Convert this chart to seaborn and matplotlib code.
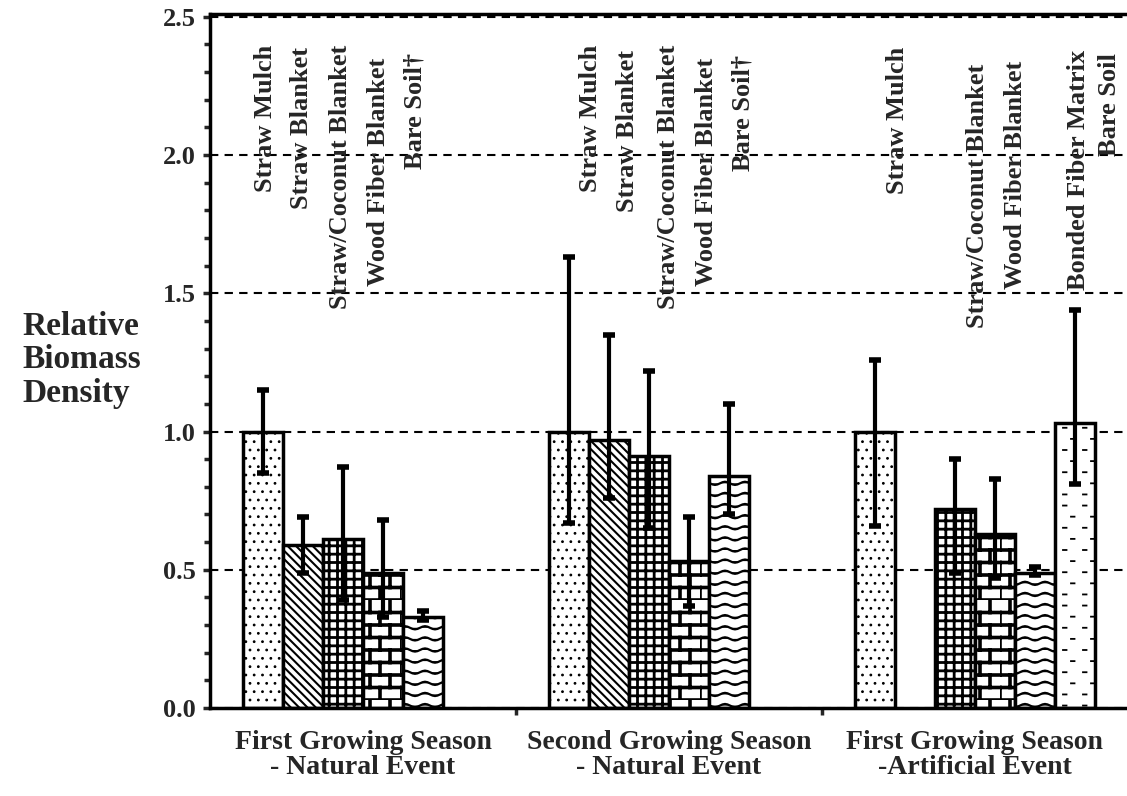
import warnings
import numpy as np
import pandas as pd
import matplotlib
matplotlib.use("Agg")
import matplotlib.pyplot as plt
from matplotlib import hatch as mhatch
from matplotlib.path import Path
from matplotlib.ticker import MultipleLocator, FixedLocator, FormatStrFormatter
import seaborn as sns

warnings.filterwarnings("ignore")

# categories
seasons = ["First Growing Season\n- Natural Event",
           "Second Growing Season\n- Natural Event",
           "First Growing Season\n-Artificial Event"]
treatments = ["Straw Mulch", "Straw Blanket", "Straw/Coconut Blanket",
              "Wood Fiber Blanket", "Bare Soil", "Bonded Fiber Matrix"]

# values per season (None = treatment not tested)
first_natural = [1.00, 0.59, 0.61, 0.49, 0.33, None]
second_natural = [1.00, 0.97, 0.91, 0.53, 0.84, None]
first_artificial = [1.00, None, 0.72, 0.63, 0.49, 1.03]

# error bar ends (low, high)
first_natural_err = [(0.85, 1.15), (0.49, 0.69), (0.39, 0.87), (0.33, 0.68), (0.32, 0.35), None]
second_natural_err = [(0.67, 1.63), (0.76, 1.35), (0.65, 1.22), (0.37, 0.69), (0.70, 1.10), None]
first_artificial_err = [(0.66, 1.26), None, (0.49, 0.90), (0.47, 0.83), (0.48, 0.51), (0.81, 1.44)]

# labels written above the bars of each season
label_names = [
    ["Straw Mulch", "Straw Blanket", "Straw/Coconut Blanket", "Wood Fiber Blanket", "Bare Soil\u2020"],
    ["Straw Mulch", "Straw Blanket", "Straw/Coconut Blanket", "Wood Fiber Blanket", "Bare Soil\u2020"],
    ["Straw Mulch", "Straw/Coconut Blanket", "Wood Fiber Blanket", "Bonded Fiber Matrix", "Bare Soil"],
]

# layout of those labels (offset from group centre, top position)
label_dx = [[-0.32, -0.20, -0.075, 0.05, 0.17],
            [-0.258, -0.134, -0.003, 0.124, 0.242],
            [-0.252, 0.007, 0.131, 0.337, 0.441]]
label_top = [[2.40, 2.39, 2.40, 2.35, 2.37],
             [2.40, 2.38, 2.40, 2.35, 2.36],
             [2.39, 2.33, 2.34, 2.38, 2.37]]


# extra hatch patterns: w = wavy rows, b = brick, d = sparse dashes
class WavyHatch(mhatch.HatchPatternBase):
    def __init__(self, hatch, density):
        self.rows = hatch.count("w") * 9
        self.npts = 41
        self.num_vertices = self.rows * self.npts

    def set_vertices_and_codes(self, vertices, codes):
        xs = np.linspace(0, 1, self.npts)
        k = 0
        for r in range(self.rows):
            vertices[k:k + self.npts, 0] = xs
            vertices[k:k + self.npts, 1] = (r + 0.5) / self.rows + 0.016 * np.sin(2 * np.pi * 5 * xs)
            codes[k] = Path.MOVETO
            codes[k + 1:k + self.npts] = Path.LINETO
            k += self.npts


class BrickHatch(mhatch.HatchPatternBase):
    def __init__(self, hatch, density):
        self.rows = hatch.count("b") * 8
        self.per_row = 5
        self.num_vertices = self.rows * (2 + 2 * self.per_row)

    def set_vertices_and_codes(self, vertices, codes):
        k = 0
        for r in range(self.rows):
            y0 = r / self.rows
            y1 = (r + 1) / self.rows
            vertices[k] = (0, y0)
            vertices[k + 1] = (1, y0)
            codes[k] = Path.MOVETO
            codes[k + 1] = Path.LINETO
            k += 2
            for j in range(self.per_row):
                x = (j + 0.5 * (r % 2)) / self.per_row
                vertices[k] = (x, y0)
                vertices[k + 1] = (x, y1)
                codes[k] = Path.MOVETO
                codes[k + 1] = Path.LINETO
                k += 2


class DashHatch(mhatch.HatchPatternBase):
    def __init__(self, hatch, density):
        self.rows = hatch.count("d") * 9
        self.per_row = 5
        self.num_vertices = self.rows * self.per_row * 2

    def set_vertices_and_codes(self, vertices, codes):
        k = 0
        for r in range(self.rows):
            y = (r + 0.5) / self.rows
            for j in range(self.per_row):
                x = (j + 0.15 + 0.4 * (r % 2)) / self.per_row
                vertices[k] = (x, y)
                vertices[k + 1] = (x + 0.035, y)
                codes[k] = Path.MOVETO
                codes[k + 1] = Path.LINETO
                k += 2


mhatch._hatch_types.extend([WavyHatch, BrickHatch, DashHatch])

hatches = {"Straw Mulch": "..", "Straw Blanket": "\\\\\\\\", "Straw/Coconut Blanket": "++",
           "Wood Fiber Blanket": "b", "Bare Soil": "w", "Bonded Fiber Matrix": "d"}
hatch_lw = {"Straw Mulch": 0.8, "Straw Blanket": 1.5, "Straw/Coconut Blanket": 2.0,
            "Wood Fiber Blanket": 2.6, "Bare Soil": 1.6, "Bonded Fiber Matrix": 1.3}

rows = []
err_lookup = {}
for gi, (s, vals, errs) in enumerate(zip(seasons, [first_natural, second_natural, first_artificial],
                                         [first_natural_err, second_natural_err, first_artificial_err])):
    for t, v, e in zip(treatments, vals, errs):
        if v is not None:
            rows.append({"season": s, "treatment": t, "value": v})
            err_lookup[(gi, t)] = e
df = pd.DataFrame(rows)

sns.set_style("ticks")
plt.rcParams["font.family"] = ["Liberation Serif", "DejaVu Serif"]
plt.rcParams["font.weight"] = "bold"
plt.rcParams["hatch.linewidth"] = 1.6
plt.rcParams["hatch.color"] = "black"

fig = plt.figure(figsize=(11.27, 7.96), dpi=100)
ax = fig.add_axes([210 / 1127, 88 / 796, 917 / 1127, 694 / 796])

sns.barplot(data=df, x="season", y="value", hue="treatment", order=seasons,
            hue_order=treatments, palette={t: "white" for t in treatments},
            edgecolor="black", linewidth=2.5, width=0.784, errorbar=None,
            legend=False, ax=ax, zorder=2)

for t, cont in zip(treatments, ax.containers):
    for bar in cont:
        bar.set_hatch(hatches[t])
        if hasattr(bar, "set_hatch_linewidth"):
            bar.set_hatch_linewidth(hatch_lw[t])
        xc = bar.get_x() + bar.get_width() / 2
        g = int(round(xc))
        lo, hi = err_lookup[(g, t)]
        h = bar.get_height()
        ax.errorbar(xc, h, yerr=[[h - lo], [hi - h]], fmt="none", ecolor="black",
                    elinewidth=3, capsize=4.5, capthick=4, zorder=4)

# treatment names
for g, (names, dxs, tops) in enumerate(zip(label_names, label_dx, label_top)):
    for name, dx, top in zip(names, dxs, tops):
        ax.text(g + dx, top, name, rotation=90, ha="center", va="top",
                fontsize=19, fontweight="bold", zorder=5)

ax.set_xlim(-0.5, 2.497)
ax.set_ylim(0, 2.51)
ax.yaxis.set_major_locator(FixedLocator([0, 0.5, 1.0, 1.5, 2.0, 2.5]))
ax.yaxis.set_major_formatter(FormatStrFormatter("%.1f"))
ax.yaxis.set_minor_locator(MultipleLocator(0.1))
ax.xaxis.set_minor_locator(FixedLocator([0.5, 1.5]))
ax.set_axisbelow(True)
ax.yaxis.grid(True, which="major", color="black", linestyle=(0, (4, 3)), linewidth=1.5)

ax.tick_params(axis="y", which="major", direction="out", length=5, width=2.5,
               labelsize=19, pad=5)
ax.tick_params(axis="y", which="minor", direction="out", length=4, width=2.5)
ax.tick_params(axis="x", which="major", length=0, labelsize=20, pad=16)
ax.tick_params(axis="x", which="minor", direction="out", length=5, width=2.5)
for lab in ax.get_xticklabels():
    lab.set_fontweight("bold")
    lab.set_linespacing(1.0)
    lab.set_multialignment("center")
for lab in ax.get_yticklabels():
    lab.set_fontweight("bold")

ax.set_xlabel("")
ax.set_ylabel("")
for side in ["left", "bottom", "top"]:
    ax.spines[side].set_linewidth(2.5)
    ax.spines[side].set_color("black")
ax.spines["right"].set_visible(False)

fig.text(0.02, 0.548, "Relative\nBiomass\nDensity", ha="left", va="center",
         fontsize=24, fontweight="bold", linespacing=1.1)

fig.savefig("out.png", dpi=100)
